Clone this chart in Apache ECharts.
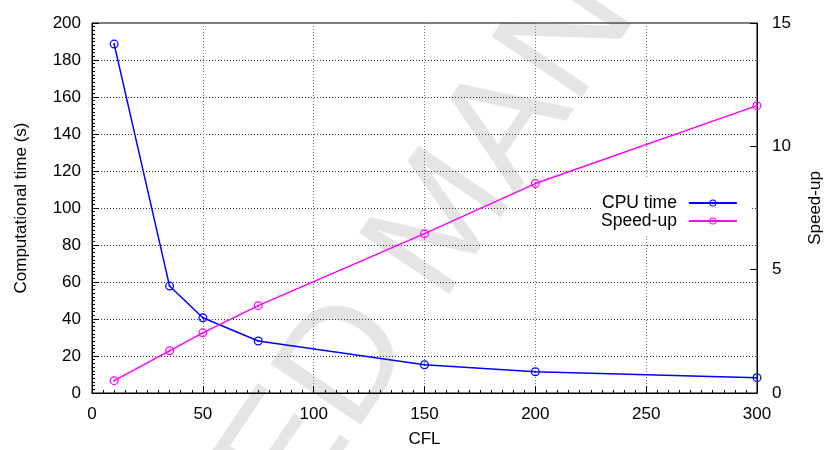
<!DOCTYPE html>
<html>
<head>
<meta charset="utf-8">
<script src="https://cdn.jsdelivr.net/npm/echarts@6/dist/echarts.min.js"></script>
<style>
html,body{margin:0;padding:0;background:#fff;}
#chart{width:831px;height:450px;}
</style>
</head>
<body>
<div id="chart"></div>
<script>
// ---- data ----
const cfl = [10, 35, 50, 75, 150, 200, 300];
const cpuTime = [188.6, 57.8, 40.7, 28.1, 15.3, 11.5, 8.3];
const speedUp = [0.50, 1.71, 2.44, 3.54, 6.46, 8.49, 11.65];
const seriesNames = ['CPU time', 'Speed-up'];
const xTitle = 'CFL';
const yLeftTitle = 'Computational time (s)';
const yRightTitle = 'Speed-up';
const watermark = 'ACCEPTED MANUSCRIPT';

const FONT = '"Liberation Sans", Arial, Helvetica, sans-serif';
const marker = 'path://M0,-10 A10,10 0 1,1 0,10 A10,10 0 1,1 0,-10 Z M0,-7.2 A7.2,7.2 0 1,0 0,7.2 A7.2,7.2 0 1,0 0,-7.2 Z M0,-2.2 A2.2,2.2 0 1,1 0,2.2 A2.2,2.2 0 1,1 0,-2.2 Z';

const chart = echarts.init(document.getElementById('chart'), null, {renderer: 'canvas'});
const pair = (xs, ys) => xs.map((x, i) => [x, ys[i]]);

chart.setOption({
  animation: false,
  backgroundColor: '#fff',
  textStyle: {fontFamily: FONT},
  graphic: [{
    type: 'text', x: 445, y: 222, rotation: 56 * Math.PI / 180, z: -100, silent: true,
    style: {text: watermark, fill: '#e5e5e5', font: '158px ' + FONT, align: 'center', verticalAlign: 'middle'}
  }],
  grid: {left: 92, right: 74, top: 23, bottom: 57, show: true, borderColor: '#000', borderWidth: 1,
         backgroundColor: 'transparent', containLabel: false, outerBoundsMode: 'none'},
  legend: {
    orient: 'vertical', left: 593, top: 178, align: 'right',
    backgroundColor: '#fff', padding: [16, 12, 5, 8], itemGap: 0,
    itemWidth: 48, itemHeight: 9,
    textStyle: {fontSize: 17.5, color: '#000', fontFamily: FONT, lineHeight: 17, padding: [0, 7, 0, 0]},
    data: seriesNames
  },
  xAxis: {
    type: 'value', min: 0, max: 300, interval: 50,
    name: xTitle, nameLocation: 'middle', nameGap: 38,
    nameTextStyle: {fontSize: 17, color: '#000', fontFamily: FONT},
    axisLine: {lineStyle: {color: '#000', width: 1}},
    axisTick: {inside: true, length: 7, lineStyle: {color: '#000'}},
    minorTick: {show: true, splitNumber: 10, length: 3, lineStyle: {color: '#000'}},
    axisLabel: {fontSize: 17, color: '#000', margin: 13, fontFamily: FONT},
    splitLine: {show: true, showMinLine: false, showMaxLine: false, lineStyle: {color: '#777', type: [1, 2], width: 1}}
  },
  yAxis: [{
    type: 'value', min: 0, max: 200, interval: 20, position: 'left',
    name: yLeftTitle, nameLocation: 'middle', nameGap: 62,
    nameTextStyle: {fontSize: 17, color: '#000', fontFamily: FONT},
    axisLine: {show: true, lineStyle: {color: '#000', width: 1}},
    axisTick: {show: true, inside: true, length: 7, lineStyle: {color: '#000'}},
    minorTick: {show: true, splitNumber: 10, length: 3, lineStyle: {color: '#000'}},
    axisLabel: {fontSize: 17, color: '#000', margin: 11, fontFamily: FONT},
    splitLine: {show: true, showMinLine: false, showMaxLine: false, lineStyle: {color: '#333', type: [1, 2], width: 1}}
  }, {
    type: 'value', min: 0, max: 15, interval: 5, position: 'right',
    name: yRightTitle, nameLocation: 'middle', nameGap: 50, nameRotate: 90,
    nameTextStyle: {fontSize: 17, color: '#000', fontFamily: FONT},
    axisLine: {show: true, lineStyle: {color: '#000', width: 1}},
    axisTick: {show: true, inside: true, length: 7, lineStyle: {color: '#000'}},
    axisLabel: {fontSize: 17, color: '#000', margin: 15, fontFamily: FONT},
    splitLine: {show: false}
  }],
  series: [{
    name: seriesNames[0], type: 'line', xAxisIndex: 0, yAxisIndex: 0,
    data: pair(cfl, cpuTime),
    symbol: marker, symbolSize: 9, showSymbol: true,
    lineStyle: {color: '#0000ff', width: 1.5},
    itemStyle: {color: '#0000ff', borderWidth: 0}
  }, {
    name: seriesNames[1], type: 'line', xAxisIndex: 0, yAxisIndex: 1,
    data: pair(cfl, speedUp),
    symbol: marker, symbolSize: 9, showSymbol: true,
    lineStyle: {color: '#ff00ff', width: 1.5},
    itemStyle: {color: '#ff00ff', borderWidth: 0}
  }]
});
</script>
</body>
</html>
